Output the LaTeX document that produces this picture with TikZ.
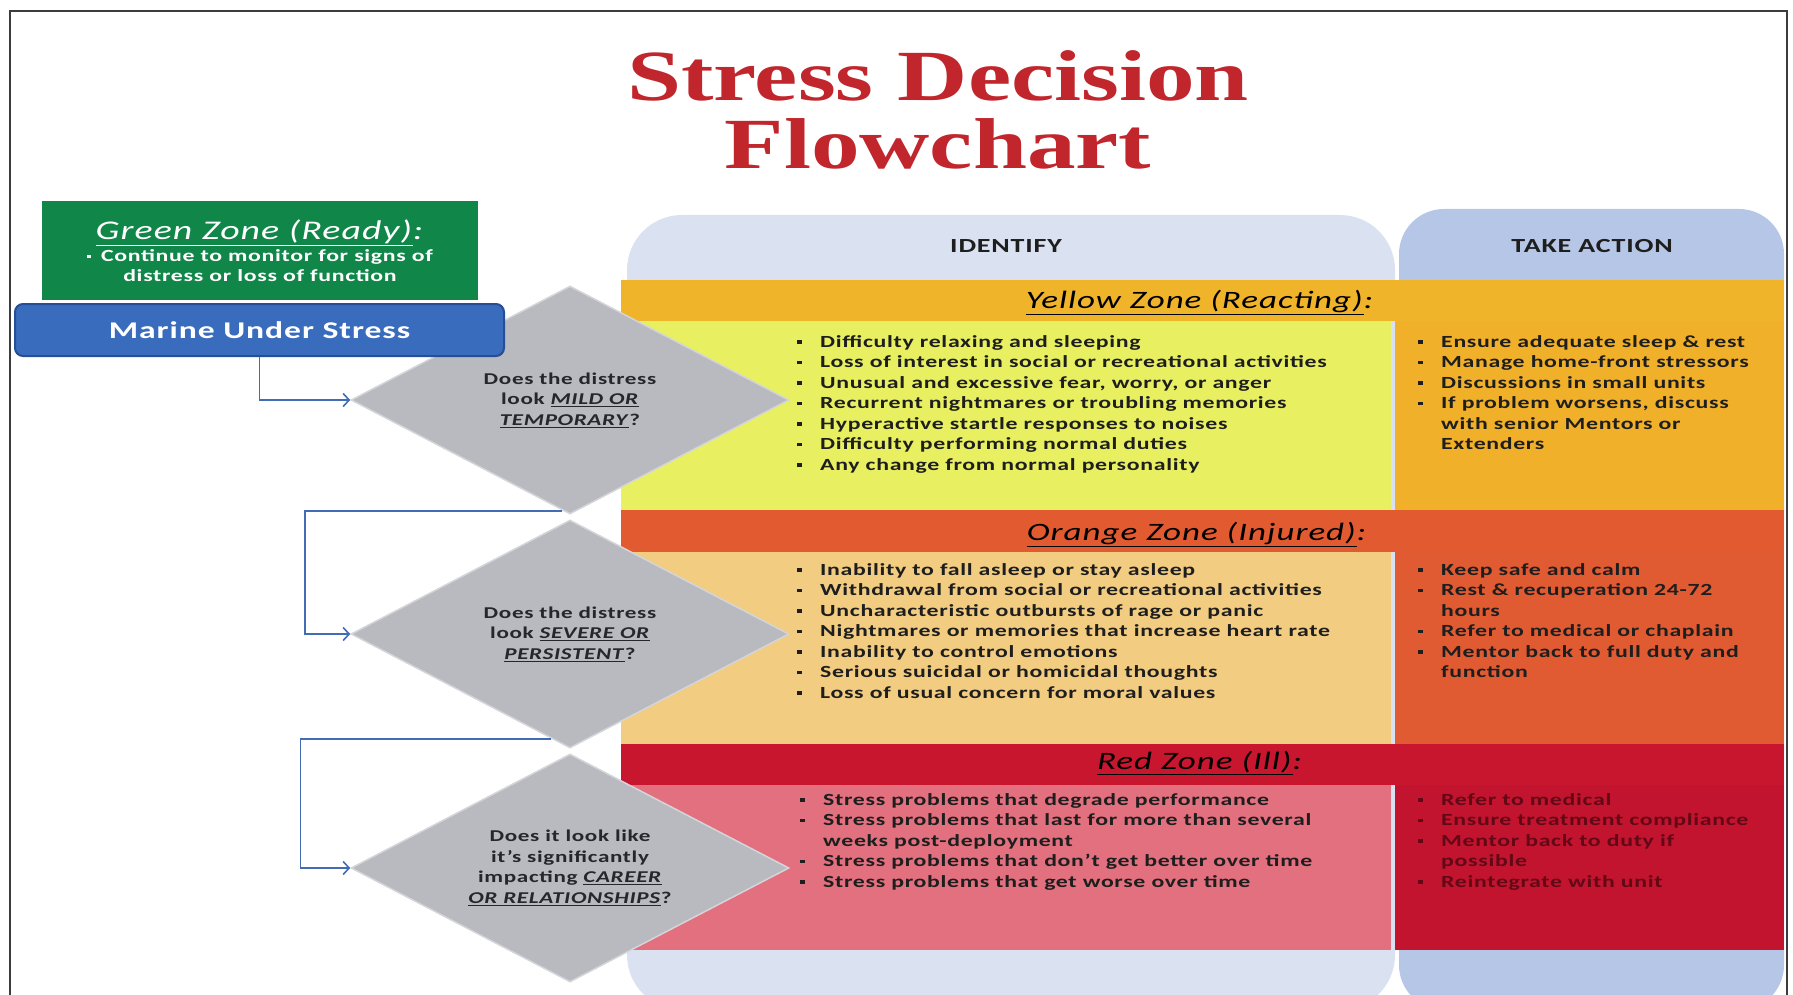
\documentclass[tikz,border=0pt]{standalone}
\usepackage{fontspec}
\setmainfont{Carlito}[FakeStretch=1.4, LetterSpace=4]
\newfontfamily\titlefont{Liberation Serif}[FakeStretch=1.35]
\usepackage{tikz}
\usetikzlibrary{shapes.geometric}
\usetikzlibrary{positioning}
\usetikzlibrary{arrows.meta}

\definecolor{titlered}{RGB}{192,38,44}
\definecolor{greenzone}{RGB}{16,134,72}
\definecolor{marineblue}{RGB}{58,108,190}
\definecolor{marineedge}{RGB}{38,78,150}
\definecolor{flowblue}{RGB}{66,108,180}
\definecolor{diamgray}{RGB}{184,186,192}
\definecolor{diamedge}{RGB}{212,213,217}
\definecolor{diamtext}{RGB}{38,38,44}
\definecolor{idcol}{RGB}{218,226,241}
\definecolor{actcol}{RGB}{182,198,230}
\definecolor{yellowhead}{RGB}{240,180,42}
\definecolor{yellowid}{RGB}{232,240,98}
\definecolor{yellowact}{RGB}{240,176,42}
\definecolor{orangehead}{RGB}{226,90,48}
\definecolor{orangeid}{RGB}{242,204,128}
\definecolor{orangeact}{RGB}{224,90,50}
\definecolor{redhead}{RGB}{200,22,46}
\definecolor{redid}{RGB}{226,112,126}
\definecolor{redact}{RGB}{194,20,46}
\definecolor{redtext}{RGB}{98,8,22}
\definecolor{listtext}{RGB}{30,30,30}
\definecolor{framegray}{RGB}{60,60,60}

\newcommand{\uit}[1]{\underline{\textit{#1}}}
\newcommand{\sq}{\makebox[23pt][l]{\rule[3.5pt]{5pt}{3.5pt}}}
\newcommand{\hang}{\hspace*{23pt}}

\tikzstyle{titletext} = [font=\titlefont\bfseries\fontsize{72}{68}\selectfont, text=titlered, align=center]
\tikzstyle{greenbox} = [rectangle, fill=greenzone, minimum width=436pt, minimum height=99pt, text=white, align=center, inner sep=0pt, font=\fontsize{17}{19.5}\selectfont]
\tikzstyle{marinebox} = [rectangle, rounded corners=8pt, fill=marineblue, draw=marineedge, line width=2pt, minimum width=489pt, minimum height=52pt, text=white, font=\bfseries\fontsize{24}{30}\selectfont]
\tikzstyle{decision} = [diamond, aspect=2, fill=diamgray, draw=diamedge, line width=1.5pt, minimum width=438pt, minimum height=228pt, inner sep=0pt, align=center, text=diamtext, font=\bfseries\fontsize{16.5}{20.5}\selectfont]
\tikzstyle{colhead} = [font=\bfseries\fontsize{20}{24}\selectfont, text=listtext]
\tikzstyle{zonetitle} = [font=\fontsize{25}{30}\selectfont, text=black]
\tikzstyle{symptoms} = [anchor=north west, inner sep=0pt, align=left, text=listtext, font=\bfseries\fontsize{17}{20.5}\selectfont]
\tikzstyle{arrow} = [line width=1.6pt, draw=flowblue, ->, >={Straight Barb[length=6pt,width=13pt]}]

\begin{document}
\begin{tikzpicture}[x=1pt, y=-1pt, node distance=234pt]
\useasboundingbox (0,0) rectangle (1793,995);
\clip (0,0) rectangle (1793,995);

% page frame
\draw [framegray, line width=1.5pt] (10,995) -- (10,11) -- (1787,11) -- (1787,995);

% column backdrops
\fill [idcol, rounded corners=55pt] (627,215) rectangle (1395,1010);
\fill [actcol, rounded corners=45pt] (1399,209) rectangle (1784,1010);

% zone bands: header strip, then identify / take action panels
\fill [yellowhead] (621,280) rectangle (1784,321);
\fill [yellowid] (621,321) rectangle (1391,510);
\fill [yellowact] (1395,321) rectangle (1784,510);
\fill [orangehead] (621,510) rectangle (1784,552);
\fill [orangeid] (621,552) rectangle (1391,744);
\fill [orangeact] (1395,552) rectangle (1784,744);
\fill [redhead] (621,744) rectangle (1784,785);
\fill [redid] (621,785) rectangle (1391,950);
\fill [redact] (1395,785) rectangle (1784,950);

\node (title) [titletext] at (938,110) {Stress Decision\\Flowchart};

\node (identify) [colhead] at (1006,246) {IDENTIFY};
\node (takeaction) [colhead] at (1592,246) {TAKE ACTION};

\node (yellowtitle) [zonetitle] at (1200,303) {\uit{Yellow Zone (Reacting)}\textit{:}};
\node (orangetitle) [zonetitle] at (1197,535) {\uit{Orange Zone (Injured)}\textit{:}};
\node (redtitle) [zonetitle] at (1200,763) {\uit{Red Zone (Ill)}\textit{:}};

% the three questions
\node (d1) [decision] at (570,400) {Does the distress\\look \uit{MILD OR}\\\uit{TEMPORARY}?};
\node (d2) [decision, below of=d1] {Does the distress\\look \uit{SEVERE OR}\\\uit{PERSISTENT}?};
\node (d3) [decision, below of=d2] {Does it look like\\it’s significantly\\impacting \uit{CAREER}\\\uit{OR RELATIONSHIPS}?};

\node (green) [greenbox] at (260,250.5) {{\fontsize{27}{28}\selectfont\uit{Green Zone (Ready)}\textit{:}}\\[3pt]{\bfseries\rule[3.5pt]{4pt}{3.5pt}\hspace{10pt}Continue to monitor for signs of}\\{\bfseries distress or loss of function}};
\node (msr) [marinebox] at (259.5,330) {Marine Under Stress};

\node (yid) [symptoms] at (797,335) {\sq Difficulty relaxing and sleeping\\
\sq Loss of interest in social or recreational activities\\
\sq Unusual and excessive fear, worry, or anger\\
\sq Recurrent nightmares or troubling memories\\
\sq Hyperactive startle responses to noises\\
\sq Difficulty performing normal duties\\
\sq Any change from normal personality};
\node (yact) [symptoms] at (1418,335) {\sq Ensure adequate sleep \& rest\\
\sq Manage home-front stressors\\
\sq Discussions in small units\\
\sq If problem worsens, discuss\\
\hang with senior Mentors or\\
\hang Extenders};

\node (oid) [symptoms] at (797,563) {\sq Inability to fall asleep or stay asleep\\
\sq Withdrawal from social or recreational activities\\
\sq Uncharacteristic outbursts of rage or panic\\
\sq Nightmares or memories that increase heart rate\\
\sq Inability to control emotions\\
\sq Serious suicidal or homicidal thoughts\\
\sq Loss of usual concern for moral values};
\node (oact) [symptoms] at (1418,563) {\sq Keep safe and calm\\
\sq Rest \& recuperation 24-72\\
\hang hours\\
\sq Refer to medical or chaplain\\
\sq Mentor back to full duty and\\
\hang function};

\node (rid) [symptoms] at (800,793) {\sq Stress problems that degrade performance\\
\sq Stress problems that last for more than several\\
\hang weeks post-deployment\\
\sq Stress problems that don’t get better over time\\
\sq Stress problems that get worse over time};
\node (ract) [symptoms, text=redtext] at (1418,793) {\sq Refer to medical\\
\sq Ensure treatment compliance\\
\sq Mentor back to duty if\\
\hang possible\\
\sq Reintegrate with unit};

\draw [arrow] (msr.south) |- (d1.west);
\draw [arrow] (d1.266) -- ++(-257,0) |- (d2.west);
\draw [arrow] (d2.260) -- ++(-251,0) |- (d3.west);
\end{tikzpicture}
\end{document}
